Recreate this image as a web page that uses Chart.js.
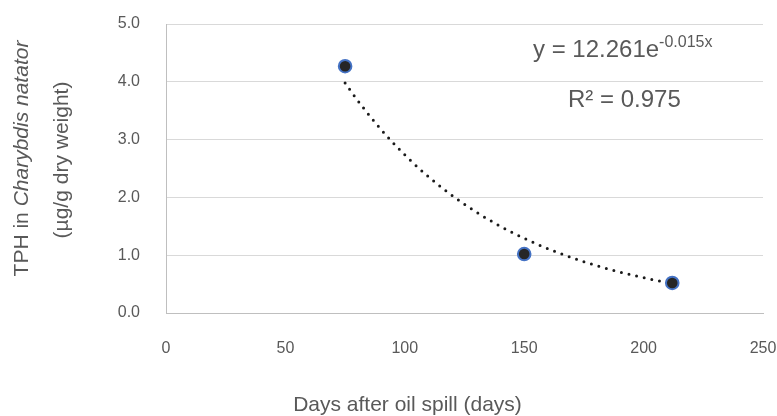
<!DOCTYPE html>
<html>
<head>
<meta charset="utf-8">
<script src="https://cdn.jsdelivr.net/npm/chart.js@4.4.1/dist/chart.umd.min.js"></script>
<style>
  html, body { margin: 0; padding: 0; background: #ffffff; }
  #wrap { width: 777px; height: 416px; }
</style>
</head>
<body>
<div id="wrap"><canvas id="c" width="777" height="416"></canvas></div>
<script>
// ---- data ----
const days = [75, 150, 212];
const tph = [4.27, 1.02, 0.52];
const xTicks = [0, 50, 100, 150, 200, 250];
const yTicks = [0, 1, 2, 3, 4, 5];
// exponential trendline y = a * e^(b x), as printed on the chart
const trendCoef = [12.261, -0.015];
const trendRange = [75, 212];
const eqMain = 'y = 12.261e';
const eqExp = '-0.015x';
const r2Text = 'R² = 0.975';
const xTitle = 'Days after oil spill (days)';
const yTitleA = 'TPH in ';
const yTitleB = 'Charybdis natator';
const yTitleC = '(µg/g dry weight)';

const FONT = "'Liberation Sans', Arial, sans-serif";
const TXT = '#595959';

const trendPlugin = {
  id: 'trend',
  beforeDatasetsDraw(chart) {
    const ctx = chart.ctx, xs = chart.scales.x, ys = chart.scales.y;
    ctx.save();
    ctx.beginPath();
    for (let d = trendRange[0]; d <= trendRange[1]; d += 1) {
      const v = trendCoef[0] * Math.exp(trendCoef[1] * d);
      const px = xs.getPixelForValue(d), py = ys.getPixelForValue(v);
      if (d === trendRange[0]) ctx.moveTo(px, py); else ctx.lineTo(px, py);
    }
    ctx.strokeStyle = '#1a1a1a';
    ctx.lineWidth = 3;
    ctx.lineCap = 'round';
    ctx.setLineDash([0, 7.8]);
    ctx.stroke();
    ctx.restore();
  }
};

const textPlugin = {
  id: 'texts',
  afterDraw(chart) {
    const ctx = chart.ctx;
    ctx.save();
    ctx.fillStyle = TXT;
    // x title
    ctx.font = '21px ' + FONT;
    ctx.textAlign = 'center';
    ctx.textBaseline = 'alphabetic';
    ctx.fillText(xTitle, 407.5, 411);

    // y title (rotated), line 1 with italic species name
    ctx.save();
    ctx.translate(22, 158.5);
    ctx.rotate(-Math.PI / 2);
    ctx.textBaseline = 'middle';
    ctx.textAlign = 'left';
    ctx.font = '21px ' + FONT;
    const wA = ctx.measureText(yTitleA).width;
    ctx.font = 'italic 21px ' + FONT;
    const wB = ctx.measureText(yTitleB).width;
    let sx = -(wA + wB) / 2;
    ctx.font = '21px ' + FONT;
    ctx.fillText(yTitleA, sx, 0);
    ctx.font = 'italic 21px ' + FONT;
    ctx.fillText(yTitleB, sx + wA, 0);
    ctx.restore();

    ctx.save();
    ctx.translate(62, 160);
    ctx.rotate(-Math.PI / 2);
    ctx.textBaseline = 'middle';
    ctx.textAlign = 'center';
    ctx.font = '21px ' + FONT;
    ctx.fillText(yTitleC, 0, 0);
    ctx.restore();

    // equation
    ctx.textAlign = 'left';
    ctx.textBaseline = 'alphabetic';
    ctx.font = '24px ' + FONT;
    ctx.fillText(eqMain, 533, 57);
    const wm = ctx.measureText(eqMain).width;
    ctx.font = '16px ' + FONT;
    ctx.fillText(eqExp, 533 + wm, 47);
    ctx.font = '24px ' + FONT;
    ctx.fillText(r2Text, 568, 107);
    ctx.restore();
  }
};

new Chart(document.getElementById('c'), {
  type: 'scatter',
  data: {
    datasets: [{
      data: days.map((d, i) => ({ x: d, y: tph[i] })),
      pointRadius: 6.3,
      pointHoverRadius: 6.3,
      pointBackgroundColor: '#262626',
      pointBorderColor: '#4472C4',
      pointBorderWidth: 2,
      showLine: false
    }]
  },
  options: {
    responsive: false,
    animation: false,
    events: [],
    layout: { padding: { top: 24, right: 14, left: 0, bottom: 0 } },
    plugins: { legend: { display: false }, tooltip: { enabled: false } },
    scales: {
      x: {
        type: 'linear',
        min: 0, max: 250,
        afterBuildTicks: (s) => { s.ticks = xTicks.map(v => ({ value: v })); },
        afterFit: (s) => { s.height = 103; s.paddingLeft = 0; s.paddingRight = 0; },
        grid: { display: false, drawTicks: false },
        border: { display: true, color: '#bfbfbf', width: 1 },
        ticks: { color: TXT, font: { family: FONT, size: 16 }, padding: 26, maxRotation: 0 }
      },
      y: {
        type: 'linear',
        min: 0, max: 5,
        afterBuildTicks: (s) => { s.ticks = yTicks.map(v => ({ value: v })); },
        afterFit: (s) => { s.width = 166; s.paddingTop = 0; s.paddingBottom = 0; },
        grid: { color: '#d9d9d9', lineWidth: 1, drawTicks: false },
        border: { display: true, color: '#bfbfbf', width: 1 },
        ticks: { color: TXT, font: { family: FONT, size: 16 }, padding: 26, callback: (v) => Number(v).toFixed(1) }
      }
    }
  },
  plugins: [trendPlugin, textPlugin]
});
</script>
</body>
</html>
